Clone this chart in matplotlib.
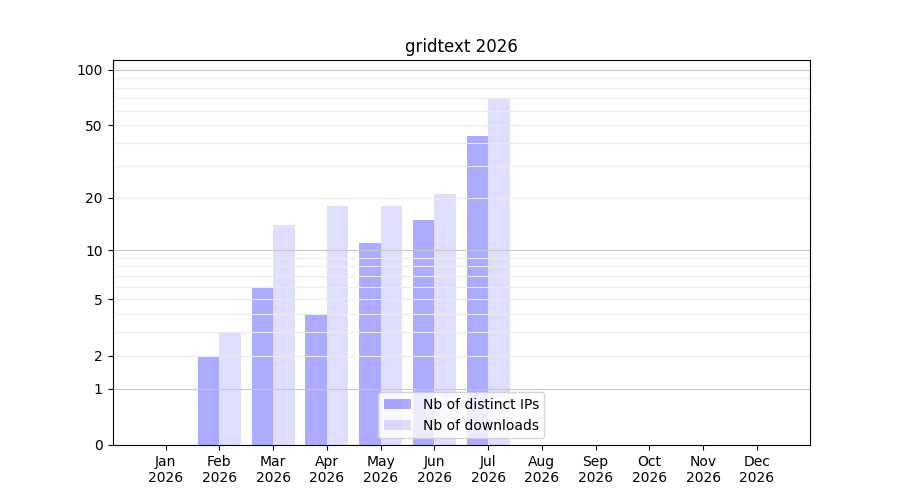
import numpy as np
import matplotlib
matplotlib.use("Agg")
import matplotlib.pyplot as plt

MONTHS = ["Jan", "Feb", "Mar", "Apr", "May", "Jun",
          "Jul", "Aug", "Sep", "Oct", "Nov", "Dec"]
YEAR = "2026"
IPS = [0, 2, 6, 4, 11, 15, 44, 0, 0, 0, 0, 0]
DOWNLOADS = [0, 3, 14, 18, 18, 21, 70, 0, 0, 0, 0, 0]
YTICKS = [0, 1, 2, 5, 10, 20, 50, 100]
MAJOR_GRID = [1, 10, 100]
MINOR_GRID = [2, 3, 4, 5, 6, 7, 8, 9, 20, 30, 40, 50, 60, 70, 80, 90]

fig, ax = plt.subplots(figsize=(9, 5), dpi=100)

x = np.arange(len(MONTHS))
ax.bar(x - 0.2, IPS, width=0.4, color="blue", alpha=0.33,
       label="Nb of distinct IPs")
ax.bar(x + 0.2, DOWNLOADS, width=0.4, color="blue", alpha=0.13,
       label="Nb of downloads")

# log(1+x) scale so that zero fits on the axis
ax.set_yscale("function", functions=(np.log1p, np.expm1))
ax.set_ylim(0, 113)
ax.set_yticks(YTICKS)
ax.set_yticklabels([str(v) for v in YTICKS])
ax.minorticks_off()

for v in MINOR_GRID:
    ax.axhline(v, color="#ebebeb", lw=0.8, zorder=1.5)
for v in MAJOR_GRID:
    ax.axhline(v, color="#c8c8c8", lw=0.8, zorder=1.5)

ax.set_xticks(x)
ax.set_xticklabels([f"{m}\n{YEAR}" for m in MONTHS])
ax.set_title(f"gridtext {YEAR}")
ax.legend(loc="lower center")

fig.savefig("out.png", dpi=100)
